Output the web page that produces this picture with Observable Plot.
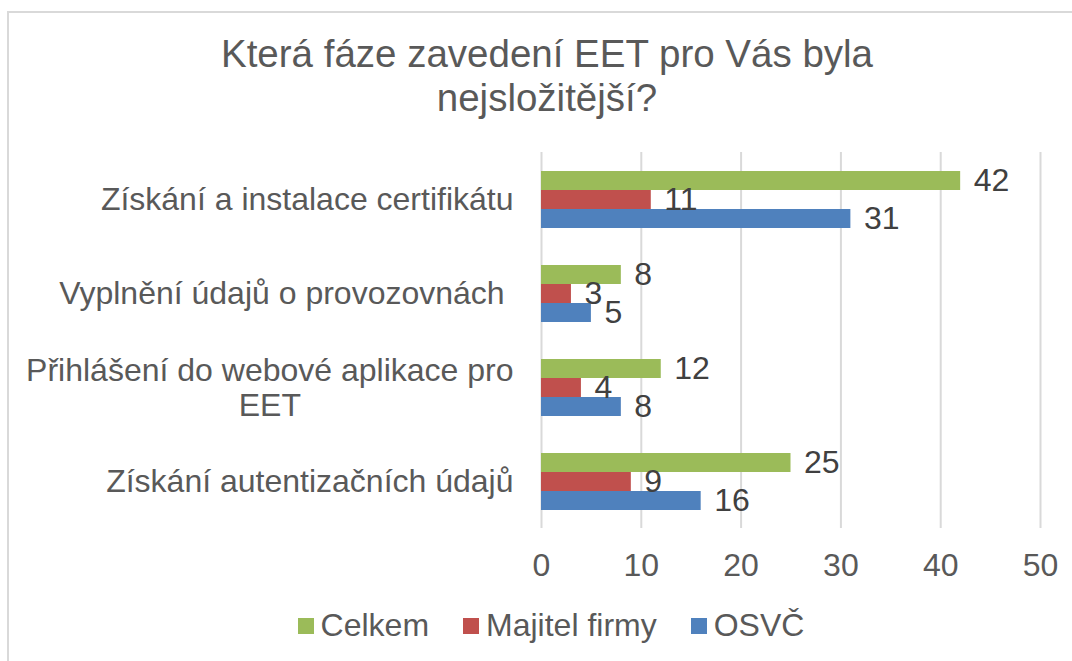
<!DOCTYPE html>
<html>
<head>
<meta charset="utf-8">
<script src="https://cdn.jsdelivr.net/npm/d3@7"></script>
<script src="https://cdn.jsdelivr.net/npm/@observablehq/plot@0.6"></script>
<style>
  html, body { margin: 0; padding: 0; background: #fff; width: 1072px; height: 661px; overflow: hidden; }
  body { font-family: "Liberation Sans", Arial, sans-serif; position: relative; }
  #frame { position: absolute; left: 7px; top: 11px; width: 1120px; height: 700px; border: 2px solid #d9d9d9; box-sizing: border-box; }
  #title { position: absolute; left: 0; top: 32px; width: 1094px; text-align: center; font-size: 38.5px; line-height: 44px; color: #595959; }
  #chart { position: absolute; left: 0; top: 0; }
  #legend { position: absolute; left: 0; top: 607px; width: 1102px; display: flex; justify-content: center; align-items: center; font-size: 32px; color: #595959; }
  .item { display: flex; align-items: center; margin: 0 17px; }
  .sw { width: 16px; height: 16px; margin-right: 7px; }
</style>
</head>
<body>
<div id="frame"></div>
<div id="title">Která fáze zavedení EET pro Vás byla<br>nejsložitější?</div>
<div id="chart"></div>
<div id="legend"></div>
<script>
// ---- data ----
const categories = [
  "Získání a instalace certifikátu",
  "Vyplnění údajů o provozovnách ",
  "Přihlášení do webové aplikace pro\nEET",
  "Získání autentizačních údajů"
];
const series = ["Celkem", "Majitel firmy", "OSVČ"];
const celkem = [42, 8, 12, 25];
const majitelFirmy = [11, 3, 4, 9];
const osvc = [31, 5, 8, 16];
const xTicks = [0, 10, 20, 30, 40, 50];
const colors = ["#9BBB59", "#C0504D", "#4F81BD"];

const seriesValues = [celkem, majitelFirmy, osvc];
const rows = [];
categories.forEach((c, i) => {
  series.forEach((s, j) => rows.push({category: c, series: s, value: seriesValues[j][i]}));
});

const labelFont = '32px "Liberation Sans", Arial, sans-serif';
const ctx = document.createElement("canvas").getContext("2d");
ctx.font = labelFont;
const labelText = (c) => c.replace(/ $/, "\u00a0");
const singleLine = categories.filter(c => !c.includes("\n"));
const multiLine = categories.filter(c => c.includes("\n"));
const multiWidth = multiLine.length ? Math.max(...multiLine[0].split("\n").map(l => ctx.measureText(l).width)) : 0;

const gap = 28;

const chart = Plot.plot({
  width: 1072,
  height: 590,
  marginLeft: 541,
  marginRight: 32,
  marginTop: 152,
  marginBottom: 62,
  style: {fontFamily: '"Liberation Sans", Arial, sans-serif', background: "transparent"},
  x: {domain: [0, 50], ticks: xTicks, axis: null},
  fy: {domain: categories, padding: 0, axis: null},
  y: {domain: series, paddingInner: 0, paddingOuter: 0.93, axis: null},
  color: {domain: series, range: colors},
  marks: [
    Plot.gridX(xTicks, {stroke: "#d9d9d9", strokeOpacity: 1, strokeWidth: 2}),
    Plot.barX(rows, {x: "value", y: "series", fy: "category", fill: "series", insetTop: 0, insetBottom: 0}),
    Plot.text(rows, {x: "value", y: "series", fy: "category", text: d => String(d.value), textAnchor: "start", dx: 13, fontSize: 32, fill: "#404040"}),
    Plot.text(singleLine, {fy: d => d, text: labelText, frameAnchor: "left", textAnchor: "end", dx: -gap, fontSize: 32, fill: "#595959"}),
    Plot.text(multiLine, {fy: d => d, text: d => d, frameAnchor: "left", textAnchor: "middle", dx: -gap - multiWidth / 2, fontSize: 32, lineHeight: 1.1, fill: "#595959"}),
    Plot.axisX(xTicks, {tickSize: 0, tickPadding: 25, fontSize: 32, fill: "#595959", label: null})
  ]
});
document.getElementById("chart").appendChild(chart);

const legend = document.getElementById("legend");
series.forEach((s, j) => {
  const it = document.createElement("div");
  it.className = "item";
  const sw = document.createElement("div");
  sw.className = "sw";
  sw.style.background = colors[j];
  const t = document.createElement("span");
  t.textContent = s;
  it.appendChild(sw); it.appendChild(t);
  legend.appendChild(it);
});
</script>
</body>
</html>
